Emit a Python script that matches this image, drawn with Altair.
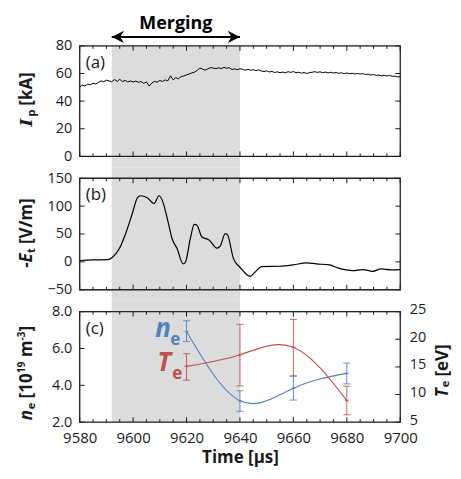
import altair as alt
import pandas as pd

# ---------------- data ----------------
t_ip = list(range(9580, 9701))
ip = [50.3, 51.5, 51.0, 52.2, 51.8, 52.9, 52.4, 53.5, 54.6, 54.0,
      55.2, 54.6, 54.0, 55.6, 54.3, 55.8, 54.2, 55.0, 53.9, 54.6,
      53.8, 54.5, 53.6, 54.2, 52.8, 53.9, 50.9, 53.0, 54.3, 53.7,
      55.0, 54.2, 55.4, 54.6, 58.3, 55.4, 57.0, 56.2, 57.8, 58.2,
      59.0, 59.6, 60.4, 61.0, 62.3, 63.9, 63.2, 62.4, 63.4, 64.3,
      63.9, 63.5, 64.1, 63.6, 64.4, 63.8, 64.2, 62.8, 63.4, 62.7,
      63.5, 63.0, 62.4, 63.1, 62.3, 62.8, 62.0, 62.6, 61.8, 61.4,
      61.9, 61.1, 61.5, 60.7, 61.2, 60.6, 61.0, 60.5, 61.3, 60.8,
      61.4, 60.6, 60.9, 60.2, 60.7, 60.0, 60.6, 60.9, 61.3, 60.8,
      61.2, 60.6, 61.0, 60.4, 60.9, 60.3, 60.7, 60.1, 60.5, 59.9,
      60.4, 59.8, 60.2, 59.6, 60.0, 59.5, 59.9, 59.2, 59.6, 58.8,
      59.3, 58.6, 58.9, 58.3, 58.7, 58.2, 58.6, 57.9, 58.1, 57.5,
      57.7]

t_et = [9580, 9585, 9590.4, 9592.3, 9594.8, 9597.2, 9599.7, 9601.6, 9602.8,
        9605.3, 9607.8, 9609.7, 9610.9, 9612.8, 9614.6, 9616.5, 9618.7,
        9619.6, 9621.4, 9622.9, 9623.9, 9625.8, 9628.3, 9631.4, 9632.6,
        9634.5, 9635.3, 9637.6, 9640, 9643.8, 9645.6, 9648.1, 9654.9,
        9659.9, 9664.9, 9668.6, 9673.5, 9676.6, 9682.2, 9686, 9689.7,
        9692.8, 9696.5, 9700]
et = [2.5, 3.5, 4.0, 8.4, 23.5, 50.6, 86.7, 115, 118.6,
      115, 104.7, 118.6, 110.8, 77.7, 41.5, 23.5, -3.6,
      -0.6, 41.5, 67.4, 65.6, 44.5, 39.7, 24.7, 28.3,
      50.6, 48.8, 5.4, -9.6, -25.9, -18.7, -8.4, -7.8,
      -5.4, -1.8, -3.6, -5.4, -10.8, -15.7, -13.8, -16.9,
      -12.6, -14.4, -13.8]

t_meas = [9620, 9640, 9660, 9680]
ne = [6.92, 3.16, 3.84, 4.65]
ne_lo = [6.38, 2.58, 3.20, 4.08]
ne_hi = [7.51, 3.71, 4.49, 5.21]
te = [15.1, 17.2, 18.55, 8.9]
te_lo = [12.6, 11.55, 13.4, 6.35]
te_hi = [17.4, 22.7, 23.6, 11.5]

merge_start, merge_end = 9592, 9640
x_major = [9580, 9600, 9620, 9640, 9660, 9680, 9700]
x_minor = [9585, 9590, 9595, 9605, 9610, 9615, 9625, 9630, 9635,
           9645, 9650, 9655, 9665, 9670, 9675, 9685, 9690, 9695]
ya_ticks = [0, 20, 40, 60, 80]
yb_ticks = [-50, 0, 50, 100, 150]
yc_ticks = [2.0, 4.0, 6.0, 8.0]
yr_ticks = [5, 10, 15, 20, 25]

# ---------------- style ----------------
F = "Open Sans"
W = 322
HA, HB, HC = 111, 112, 111
GAP = 22
BLUE = "#4F81BD"
RED = "#C0504D"
SHADE = "#dcdcdc"
INK = "#1a1a1a"
SP = 4.4  # width of a space at the title size

one = pd.DataFrame({"k": [0]})
df_ip = pd.DataFrame({"t": t_ip, "v": ip})
df_et = pd.DataFrame({"t": t_et, "v": et})
df_m = pd.DataFrame({"t": t_meas, "ne": ne, "ne_lo": ne_lo, "ne_hi": ne_hi,
                     "te": te, "te_lo": te_lo, "te_hi": te_hi})
df_shade = pd.DataFrame({"s": [merge_start], "e": [merge_end]})
df_xmaj = pd.DataFrame({"t": x_major})
df_xmin = pd.DataFrame({"t": x_minor})

xscale = alt.Scale(domain=[9580, 9700], nice=False, zero=False)


def X(field, with_axis=False):
    if with_axis:
        ax = alt.Axis(values=x_major, format="d", labelFlush=False, labelOverlap=False,
                      ticks=False, domain=False, grid=False, labelPadding=8,
                      title="Time [µs]", titleFont=F, titleFontSize=17,
                      titleFontWeight="bold", titleColor=INK, titlePadding=5,
                      labelFont=F, labelFontSize=15, labelColor=INK)
    else:
        ax = None
    return alt.X(field, type="quantitative", scale=xscale, axis=ax)


def Y(field, domain, values, fmt="d", orient="left", pad=8, loff=0):
    ax = alt.Axis(values=values, format=fmt, orient=orient, ticks=False, domain=False,
                  grid=False, labelPadding=pad, labelOffset=loff, title=None, labelFont=F,
                  labelFontSize=14.5, labelColor=INK)
    return alt.Y(field, type="quantitative",
                 scale=alt.Scale(domain=domain, nice=False, zero=False), axis=ax)


def shade(H, top_ext, bot_ext, xa=False):
    return alt.Chart(df_shade).mark_rect(color=SHADE).encode(
        x=X("s", xa), x2=alt.X2("e"), y=alt.value(-top_ext), y2=alt.value(H + bot_ext))


def xticks(H, xa=False):
    out = []
    for df, ln in ((df_xmaj, 5), (df_xmin, 3)):
        out.append(alt.Chart(df).mark_rule(color=INK, strokeWidth=1).encode(
            x=X("t", xa), y=alt.value(0), y2=alt.value(ln)))
        out.append(alt.Chart(df).mark_rule(color=INK, strokeWidth=1).encode(
            x=X("t", xa), y=alt.value(H - ln), y2=alt.value(H)))
    return out


def yticks(vals, ydef, left=True, right=True):
    df = pd.DataFrame({"y": vals})
    out = []
    if left:
        out.append(alt.Chart(df).mark_rule(color=INK, strokeWidth=1).encode(
            y=ydef, x=alt.value(0), x2=alt.value(5)))
    if right:
        out.append(alt.Chart(df).mark_rule(color=INK, strokeWidth=1).encode(
            y=ydef, x=alt.value(W - 5), x2=alt.value(W)))
    return out


def frame(H):
    return alt.Chart(one).mark_rect(fillOpacity=0, stroke="#222", strokeWidth=1.3).encode(
        x=alt.value(0), x2=alt.value(W), y=alt.value(0), y2=alt.value(H))


def label(txt):
    return alt.Chart(one).mark_text(text=txt, font=F, fontSize=17, align="left",
                                    baseline="middle", color=INK).encode(
        x=alt.value(6), y=alt.value(17))


def vtitle(segs, x0, y0):
    out = []
    for text, along, perp, size, style, font in segs:
        out.append(alt.Chart(one).mark_text(
            text=text, angle=270, align="left", baseline="alphabetic", font=font,
            fontSize=size, fontStyle=style, fontWeight="bold", color=INK).encode(
            x=alt.value(x0 + perp), y=alt.value(y0 - along)))
    return out


# invisible box that pins the outer extent of the whole figure
anchor = alt.Chart(one).mark_rect(opacity=0).encode(
    x=alt.value(-71), x2=alt.value(W + 52), y=alt.value(-36), y2=alt.value(0))

# ---------------- panel (a) ----------------
ya = Y("v", [0, 80], ya_ticks)
arrow_line = alt.Chart(df_shade).mark_rule(color="black", strokeWidth=2).encode(
    x=X("s"), x2=alt.X2("e"), y=alt.value(-9))
head_l = alt.Chart(pd.DataFrame({"t": [merge_start]})).mark_point(
    shape="M0,0L2,-1L1.4,0L2,1Z", size=150, filled=True, color="black", opacity=1).encode(
    x=X("t"), y=alt.value(-9))
head_r = alt.Chart(pd.DataFrame({"t": [merge_end]})).mark_point(
    shape="M0,0L-2,-1L-1.4,0L-2,1Z", size=150, filled=True, color="black", opacity=1).encode(
    x=X("t"), y=alt.value(-9))
merging = alt.Chart(df_shade).transform_calculate(m="(datum.s + datum.e) / 2").mark_text(
    text="Merging", font=F, fontSize=18, fontWeight="bold", baseline="alphabetic",
    color="black").encode(x=X("m"), y=alt.value(-17))
ip_line = alt.Chart(df_ip).mark_line(color="black", strokeWidth=1).encode(
    x=X("t"), y=ya)

panel_a = alt.layer(
    anchor,
    shade(HA, 0, GAP / 2), *xticks(HA), *yticks(ya_ticks, Y("y", [0, 80], ya_ticks)),
    ip_line, arrow_line, head_l, head_r, merging, label("(a)"), frame(HA),
    *vtitle([("I", 0, 0, 17, "italic", "DejaVu Serif"),
             ("p", 10, 3, 11, "normal", F),
             ("[kA]", 16.5 + SP, 0, 17, "normal", F)], -48, 81),
).properties(width=W, height=HA)

# ---------------- panel (b) ----------------
yb = Y("v", [-50, 150], yb_ticks)
et_line = alt.Chart(df_et).mark_line(color="black", strokeWidth=1.2,
                                     interpolate="monotone").encode(x=X("t"), y=yb)
panel_b = alt.layer(
    shade(HB, GAP / 2, GAP / 2), *xticks(HB), *yticks(yb_ticks, Y("y", [-50, 150], yb_ticks)),
    et_line, label("(b)"), frame(HB),
    *vtitle([("-", 0, 0, 17, "normal", F),
             ("E", 5.5, 0, 17, "italic", F),
             ("t", 15, 3, 11, "normal", F),
             ("[V/m]", 19.5 + SP, 0, 17, "normal", F)], -48, 90),
).properties(width=W, height=HB)

# ---------------- panel (c) ----------------
yl = lambda f: Y(f, [2, 8], yc_ticks, fmt=".1f")
yr = lambda f: Y(f, [5, 25], yr_ticks, fmt="d", orient="right", pad=9, loff=-2)


def errs(fv, flo, fhi, ydef_fn, color):
    base = alt.Chart(df_m)
    return [
        base.mark_rule(color=color, strokeWidth=1, opacity=0.9).encode(
            x=X("t", True), y=ydef_fn(flo), y2=alt.Y2(fhi)),
        base.mark_tick(color=color, orient="horizontal", size=7, thickness=1.2).encode(
            x=X("t", True), y=ydef_fn(flo)),
        base.mark_tick(color=color, orient="horizontal", size=7, thickness=1.2).encode(
            x=X("t", True), y=ydef_fn(fhi)),
        base.mark_tick(color=color, orient="horizontal", size=4, thickness=1.5).encode(
            x=X("t", True), y=ydef_fn(fv)),
        base.mark_line(color=color, strokeWidth=1.1, interpolate="natural").encode(
            x=X("t", True), y=ydef_fn(fv)),
    ]


def inlabel(big, sub, color, x, y):
    return [
        alt.Chart(one).mark_text(text=big, font=F, fontSize=26, fontStyle="italic",
                                 fontWeight="bold", color=color, align="left",
                                 baseline="alphabetic").encode(x=alt.value(x), y=alt.value(y)),
        alt.Chart(one).mark_text(text=sub, font=F, fontSize=17, fontWeight="bold",
                                 color=color, align="left",
                                 baseline="alphabetic").encode(x=alt.value(x + 15), y=alt.value(y + 8)),
    ]


left_layer = alt.layer(
    shade(HC, GAP / 2, 0, True), *xticks(HC, True),
    *yticks(yc_ticks, yl("y"), left=True, right=False),
    *errs("ne", "ne_lo", "ne_hi", yl, BLUE),
    *inlabel("n", "e", BLUE, 76, 25), *inlabel("T", "e", RED, 78, 60),
    label("(c)"),
    *vtitle([("n", 0, 0, 17, "italic", F),
             ("e", 11, 3, 11, "normal", F),
             ("[10", 17.5 + SP, 0, 17, "normal", F),
             ("19", 47.5, -7, 10, "normal", F),
             ("m", 59 + SP, 0, 17, "normal", F),
             ("-3", 80, -7, 10, "normal", F),
             ("]", 89, 0, 17, "normal", F)], -47.5, 109),
)
right_layer = alt.layer(
    *yticks(yr_ticks, yr("y"), left=False, right=True),
    *errs("te", "te_lo", "te_hi", yr, RED),
    frame(HC),
    *vtitle([("T", 0, 0, 17, "italic", F),
             ("e", 10, 1.5, 11, "normal", F),
             ("[eV]", 16.5 + SP, 0, 17, "normal", F)], W + 47.5, 86),
)
panel_c = alt.layer(left_layer, right_layer).resolve_scale(y="independent").properties(
    width=W, height=HC)

chart = alt.vconcat(panel_a, panel_b, panel_c, spacing=GAP, bounds="flush").properties(
    padding={"left": 0, "top": 0, "right": 0, "bottom": 0}
).configure_view(stroke=None).configure(font=F)

chart.save("out.html", embed_options={"renderer": "svg", "actions": False})
